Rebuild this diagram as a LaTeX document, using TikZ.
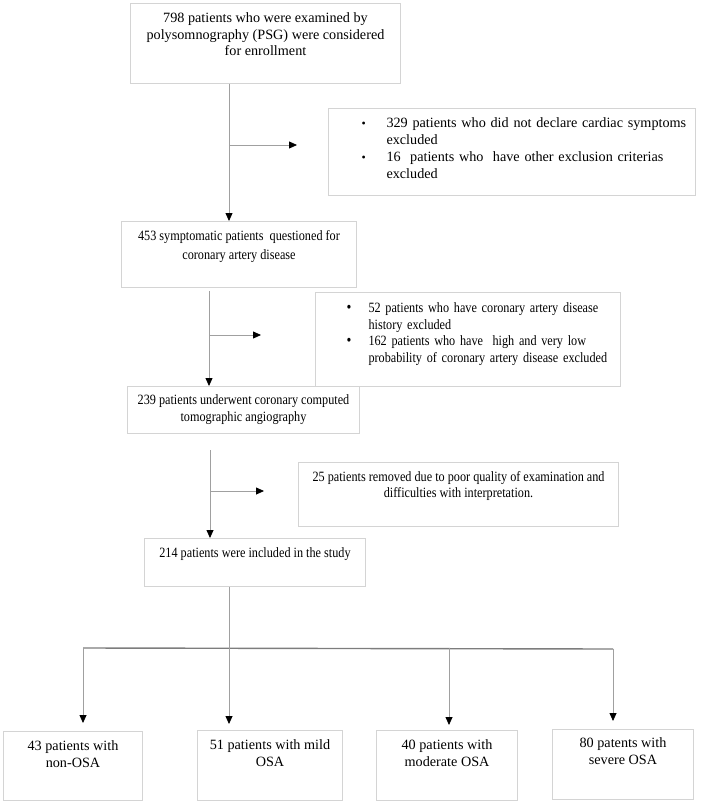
\documentclass[tikz,border=0pt]{standalone}
\usepackage{fontspec}
\setmainfont{Liberation Serif}
\newfontfamily\narrowserif[FakeStretch=0.86]{Liberation Serif}
\usetikzlibrary{arrows.meta}

\definecolor{boxgray}{RGB}{212,212,212}
\definecolor{linkgray}{RGB}{160,160,160}
\definecolor{bargray}{RGB}{125,125,125}

\tikzset{
  box/.style={draw=boxgray, line width=1pt, inner sep=0pt, anchor=north west, align=flush center, font=\fontsize{14.2}{16.7}\selectfont},
  smalltext/.style={font=\narrowserif\fontsize{14.2}{16.7}\selectfont},
  link/.style={draw=linkgray, line width=0.8pt},
  arr/.style={link, -{Triangle[length=8pt, width=7pt, color=black]}},
  bar/.style={draw=bargray, line width=1.4pt}
}

\begin{document}
\begin{tikzpicture}[x=1pt, y=-1pt]
\useasboundingbox (0,0) rectangle (708,805);

% Main flow boxes
\node[box, text width=270pt, text height=19pt, text depth=61pt] (enroll) at (130,3) {798 patients who were examined by\\ polysomnography (PSG) were considered\\ for enrollment};
\node[box, smalltext, text width=235pt, text height=19pt, text depth=47pt] (symp) at (121,221) {453 symptomatic patients\ \ questioned for\\[2pt] coronary artery disease};
\node[box, smalltext, text width=232pt, text height=18pt, text depth=29pt] (ccta) at (127,386) {239 patients underwent coronary computed\\ tomographic angiography};
\node[box, smalltext, text width=221pt, text height=19pt, text depth=29pt] (study) at (144,538) {214 patients were included in the study};

% Exclusion boxes
\node[box, align=left, text width=367pt, text height=19pt, text depth=68pt] (excl1) at (328,108) {\hspace*{33pt}\begin{tabular}[t]{@{}p{25pt}@{}l@{}}
{\fontsize{12}{12}\selectfont\textbullet} & 329 patients who did not declare cardiac symptoms\\
 & excluded\\[1pt]
{\fontsize{12}{12}\selectfont\textbullet} & 16\ \ patients who\ \ have other exclusion criterias\\
 & excluded
\end{tabular}};
\node[box, smalltext, align=left, text width=305pt, text height=20pt, text depth=74pt] (excl2) at (315,292) {\hspace*{31pt}\begin{tabular}[t]{@{}p{22pt}@{}l@{}}
{\fontsize{16}{16}\selectfont\textbullet} & 52 patients who have coronary artery disease\\
 & history excluded\\
{\fontsize{16}{16}\selectfont\textbullet} & 162 patients who have\ \ high and very low\\
 & probability of coronary artery disease excluded
\end{tabular}};
\node[box, smalltext, text width=320pt, text height=19pt, text depth=45pt] (excl3) at (298,462) {25 patients removed due to poor quality of examination and\\[-1pt] difficulties with interpretation.};

% Groups
\node[box, text width=139pt, text height=19pt, text depth=50pt] (non) at (3,731) {43 patients with\\ non-OSA};
\node[box, text width=145pt, text height=19pt, text depth=51pt] (mild) at (197,730) {51 patients with mild\\ OSA};
\node[box, text width=141pt, text height=19pt, text depth=51pt] (mod) at (376,730) {40 patients with\\ moderate OSA};
\node[box, text width=141pt, text height=18pt, text depth=52pt] (sev) at (552,729) {80 patents with\\ severe OSA};

% Trunk and side arrows
\coordinate (t1) at (229,0);
\coordinate (t2) at (209,0);
\coordinate (t3) at (210,0);
\coordinate (s1) at (229,145);
\coordinate (s1e) at (297,145);
\coordinate (s2) at (209,335);
\coordinate (s2e) at (261,335);
\coordinate (s3) at (210,491);
\coordinate (s3e) at (264,491);

\draw[arr] (enroll.south -| t1) -- (symp.north -| t1);
\draw[arr] (s1) -- (s1e);
\draw[arr, shorten <=3pt] (symp.south -| t2) -- (ccta.north -| t2);
\draw[arr] (s2) -- (s2e);
\draw[arr, shorten <=16pt] (ccta.south -| t3) -- (study.north -| t3);
\draw[arr] (s3) -- (s3e);

% Split into the four groups
\coordinate (barL) at (83,648);
\coordinate (barM) at (449,648);
\coordinate (barR) at (613,649);
\draw[bar] (barL) -- (barR);
\draw[arr, shorten >=6pt] (study.south -| t1) -- (mild.north -| t1);
\draw[arr, shorten >=8pt] (barL) -- (barL |- non.north);
\draw[arr, shorten >=5pt] (barM) -- (barM |- mod.north);
\draw[arr, shorten >=8pt] (barR) -- (barR |- sev.north);
\end{tikzpicture}
\end{document}
